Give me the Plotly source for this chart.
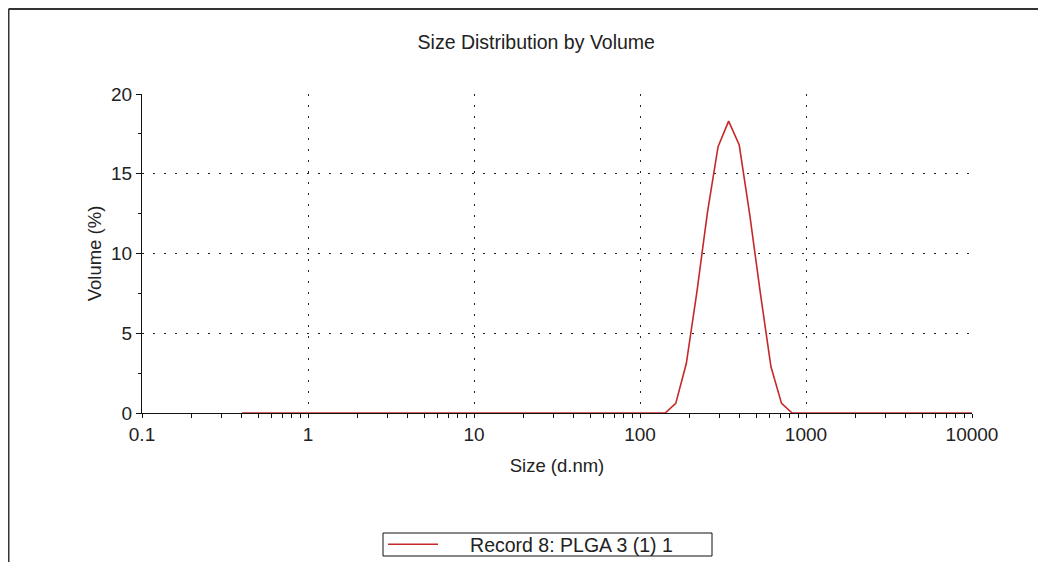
import plotly.graph_objects as go

# Size classes (d.nm) of the instrument
sizes = [0.4, 0.4632, 0.5365, 0.6213, 0.7195, 0.8332, 0.9649, 1.117, 1.294, 1.499,
         1.736, 2.010, 2.328, 2.696, 3.122, 3.615, 4.187, 4.849, 5.615, 6.503,
         7.531, 8.721, 10.10, 11.70, 13.54, 15.69, 18.17, 21.04, 24.36, 28.21,
         32.67, 37.84, 43.82, 50.75, 58.77, 68.06, 78.82, 91.28, 105.7, 122.4,
         141.8, 164.2, 190.1, 220.2, 255.0, 295.3, 342.0, 396.1, 458.7, 531.2,
         615.1, 712.4, 825.0, 955.4, 1106, 1281, 1484, 1718, 1990, 2305,
         2669, 3091, 3580, 4145, 4801, 5560, 6439, 7456, 8635, 10000]
# Volume (%) per class
volume = [0.0] * 41 + [0.6, 3.1, 7.6, 12.6, 16.7, 18.3, 16.8, 12.4, 7.5, 2.9, 0.6] + [0.0] * 18

series_name = "Record 8: PLGA 3 (1) 1"
title_text = "Size Distribution by Volume"
x_title = "Size (d.nm)"
y_title = "Volume (%)"
x_tickvals = [0.1, 1, 10, 100, 1000, 10000]
x_ticktext = ["0.1", "1", "10", "100", "1000", "10000"]
y_tickvals = [0, 5, 10, 15, 20]

FONT = "Liberation Sans, Arial, sans-serif"
DOT = "2px,9px"

W, H = 1038, 561
L, R, T, B = 134, 74, 86, 156

fig = go.Figure()
fig.add_trace(go.Scatter(x=sizes, y=volume, mode="lines",
                         name="\u00a0" * 5 + series_name + "\u00a0" * 6,
                         line=dict(color="#c62828", width=1.6), showlegend=True))

pw = W - L - R
ph = H - T - B
zero_px = H - B  # figure px of y=0 (page px minus 8)

def px_x(page_x):
    return (page_x - 8 - L) / pw

def px_y(page_y):
    return (zero_px - (page_y - 8)) / ph

fig.update_layout(
    width=W, height=H,
    margin=dict(l=L, r=R, t=T, b=B, autoexpand=False),
    paper_bgcolor="white", plot_bgcolor="white",
    font=dict(family=FONT, color="#222", size=19),
    title=dict(text=title_text, x=0.475, xref="paper", xanchor="center",
               y=1 - 34 / H, yanchor="middle", font=dict(size=19.5, family=FONT, color="#222")),
    showlegend=True,
    legend=dict(orientation="h", x=px_x(547), xanchor="center", y=px_y(544.5), yanchor="middle",
                borderwidth=0, bgcolor="rgba(0,0,0,0)", itemwidth=50,
                font=dict(size=19.5, family=FONT, color="#222")),
    xaxis=dict(type="log", range=[-1, 4], tickvals=x_tickvals, ticktext=x_ticktext,
               showline=True, linecolor="#111", linewidth=1, layer="below traces",
               ticks="outside", ticklen=4, tickcolor="#111",
               showgrid=True, gridcolor="#222", gridwidth=1, griddash=DOT,
               zeroline=False, tickfont=dict(size=19),
               minor=dict(ticks="outside", ticklen=4, tickcolor="#111", showgrid=False, dtick="D1"),
               title=dict(text=x_title, font=dict(size=18.5), standoff=15)),
    yaxis=dict(range=[0, 20], tickvals=y_tickvals,
               showline=True, linecolor="#111", linewidth=1, layer="below traces",
               ticks="outside", ticklen=5, tickcolor="#111",
               showgrid=True, gridcolor="#222", gridwidth=1, griddash=DOT,
               zeroline=False, tickfont=dict(size=19),
               minor=dict(ticks="outside", ticklen=3, tickcolor="#111", showgrid=False, dtick=2.5),
               title=dict(text=y_title, font=dict(size=18.5), standoff=4)),
    xaxis2=dict(type="log", range=[-1, 4], overlaying="x", anchor="y", side="bottom",
                tickvals=x_tickvals, ticks="inside", ticklen=3, tickcolor="#111",
                showticklabels=False, showgrid=False, showline=False, zeroline=False,
                minor=dict(ticks="inside", ticklen=3, tickcolor="#111", showgrid=False, dtick="D1")),
    yaxis2=dict(range=[0, 20], overlaying="y", anchor="x", side="left",
                tickvals=y_tickvals, ticks="inside", ticklen=5, tickcolor="#111",
                showticklabels=False, showgrid=False, showline=False, zeroline=False,
                minor=dict(ticks="inside", ticklen=3, tickcolor="#111", showgrid=False, dtick=2.5)),
)

# legend box
fig.add_shape(type="rect", xref="paper", yref="paper",
              x0=px_x(383), x1=px_x(712), y0=px_y(533), y1=px_y(556),
              line=dict(color="#111", width=1), fillcolor="rgba(0,0,0,0)")

# outer frame (top and left edges)
fx0 = (0.5 - L) / pw
fy0 = px_y(9)
fig.add_shape(type="line", xref="paper", yref="paper", x0=fx0, x1=1.2, y0=fy0, y1=fy0,
              line=dict(color="#333", width=2))
fig.add_shape(type="line", xref="paper", yref="paper", x0=fx0, x1=fx0, y0=fy0, y1=px_y(562),
              line=dict(color="#333", width=2))

fig.write_html("out.html")
